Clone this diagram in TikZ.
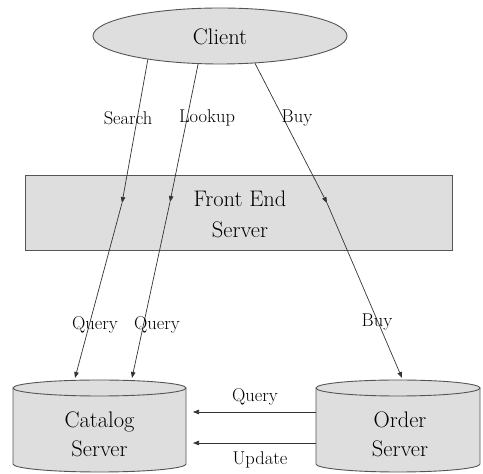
\documentclass[tikz,border=0pt]{standalone}
\usetikzlibrary{arrows.meta,shapes.geometric}
\definecolor{boxfill}{HTML}{DEDEDE}
\definecolor{boxline}{HTML}{555555}
\definecolor{arr}{HTML}{333333}
\tikzset{
  big/.style={font=\fontsize{22.5}{29}\selectfont, align=center, inner sep=0pt},
  lbl/.style={font=\fontsize{18.5}{22}\selectfont, inner sep=0pt},
  conn/.style={draw=arr, line width=0.7pt, -{Triangle[length=6pt,width=4.5pt]}},
  shapeline/.style={draw=boxline, line width=0.9pt, fill=boxfill},
}
\begin{document}
\begin{tikzpicture}[x=1pt,y=1pt]
\useasboundingbox (0,0) rectangle (483,474);
% Client
\node[ellipse, shapeline, minimum width=254pt, minimum height=56pt, inner sep=0pt] (client) at (220,438) {};
\node[big] (clienttxt) at (220,437) {Client};
% Front end
\node[shapeline, minimum width=427pt, minimum height=75pt, inner sep=0pt] (front) at (238.5,261.5) {};
\node[big, font=\fontsize{22.5}{31}\selectfont] (fronttxt) at (240,260) {Front End\\Server};
% Cylinders
\draw[shapeline] (13,86) -- (13,10) arc[start angle=180, end angle=360, x radius=86.5, y radius=8] -- (186,86);
\draw[shapeline] (99.5,86) ellipse[x radius=86.5, y radius=8];
\draw[shapeline] (316,86) -- (316,10) arc[start angle=180, end angle=360, x radius=82, y radius=8] -- (480,86);
\draw[shapeline] (398,86) ellipse[x radius=82, y radius=8];
\node[minimum width=173pt, minimum height=76pt, inner sep=0pt] (cat) at (99.5,48) {};
\node[minimum width=164pt, minimum height=76pt, inner sep=0pt] (ord) at (398,48) {};
\node[big] (cattxt) at (99.5,40) {Catalog\\Server};
\node[big] (ordtxt) at (400,40) {Order\\Server};
% connector points
\coordinate (s1) at (122,271);
\coordinate (l1) at (170,272);
\coordinate (b1) at (327,271);
\coordinate (s2) at (75,96);
\coordinate (l2) at (132,96);
\coordinate (b2) at (402,96);
\coordinate (cq) at (193,62);
\coordinate (cu) at (193,31);
% connectors
\draw[conn] (client.198.4) -- (s1);
\draw[conn] (s1) -- (s2);
\draw[conn] (client.232.4) -- (l1);
\draw[conn] (l1) -- (l2);
\draw[conn] (client.322.6) -- (b1);
\draw[conn] (b1) -- (b2);
\draw[conn] (ord.west |- cq) -- (cq);
\draw[conn] (ord.west |- cu) -- (cu);
% labels
\node[lbl] (lsearch) at (128,356) {Search};
\node[lbl] (llookup) at (207,356) {Lookup};
\node[lbl] (lbuy1) at (297,356) {Buy};
\node[lbl] (lq1) at (95,149) {Query};
\node[lbl] (lq2) at (157,149) {Query};
\node[lbl] (lbuy2) at (377,152) {Buy};
\node[lbl] (lq3) at (255,77) {Query};
\node[lbl] (lupd) at (260,14) {Update};
\end{tikzpicture}
\end{document}
